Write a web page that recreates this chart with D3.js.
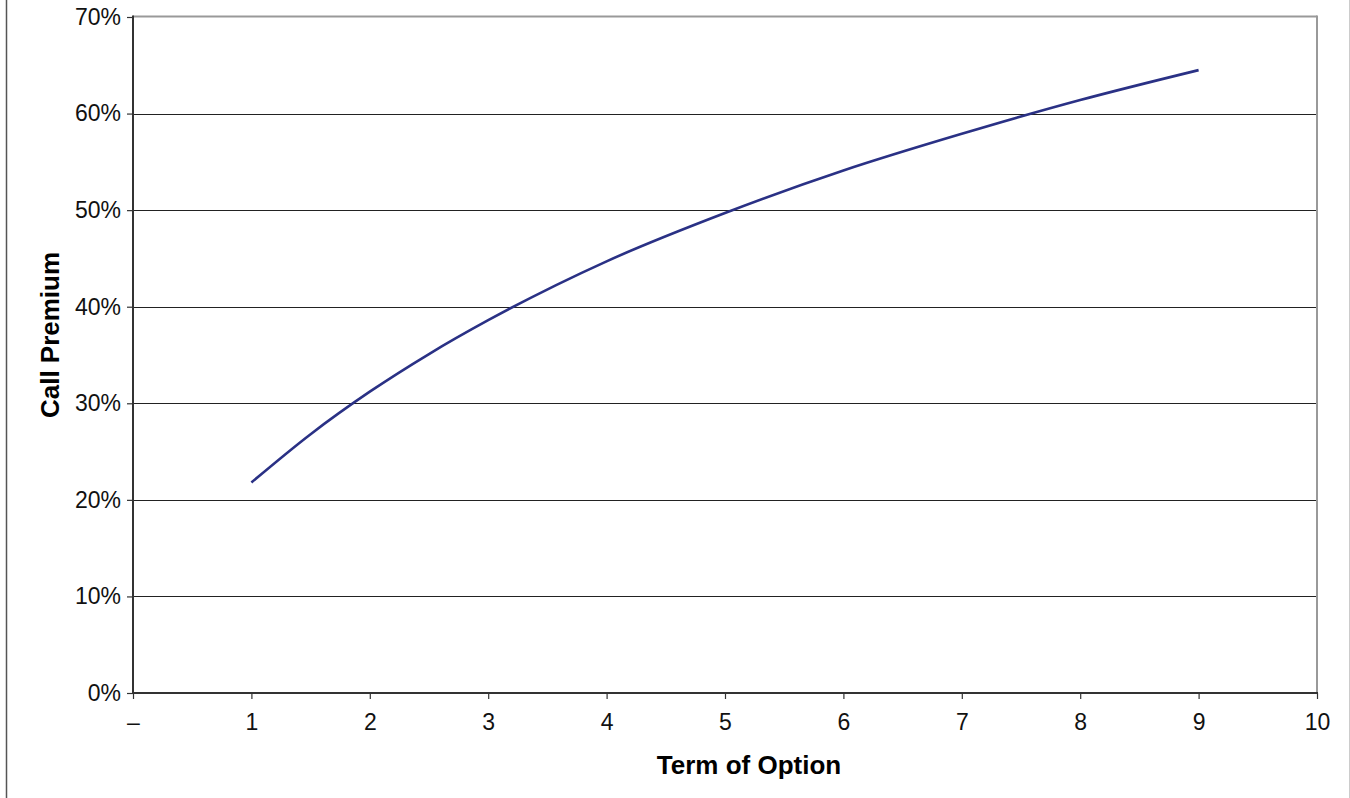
<!DOCTYPE html>
<html><head><meta charset="utf-8">
<script src="https://cdn.jsdelivr.net/npm/d3@7"></script>
<style>body{margin:0;background:#fff;}svg{display:block;font-family:"Liberation Sans",Arial,sans-serif;}</style>
</head><body>
<svg id="c" width="1350" height="798"></svg>
<script>
const terms = [1, 1.5, 2, 2.5, 3, 4, 5, 6, 7, 8, 9];
const premiums = [0.218, 0.268, 0.312, 0.351, 0.386, 0.447, 0.497, 0.541, 0.579, 0.614, 0.645];
const xTicks = [0,1,2,3,4,5,6,7,8,9,10];
const xTickLabels = ["–","1","2","3","4","5","6","7","8","9","10"];
const yTicks = [0,0.1,0.2,0.3,0.4,0.5,0.6,0.7];
const yTickLabels = ["0%","10%","20%","30%","40%","50%","60%","70%"];

const svg = d3.select("#c");
const L = 133, R = 1317, T = 17, B = 693;
const x = d3.scaleLinear().domain([0,10]).range([L,R]);
const y = d3.scaleLinear().domain([0,0.7]).range([B,T]);

// outer frame lines
svg.append("line").attr("x1",6.5).attr("x2",6.5).attr("y1",0).attr("y2",798).attr("stroke","#555").attr("stroke-width",1.5);
svg.append("line").attr("x1",1349.5).attr("x2",1349.5).attr("y1",0).attr("y2",798).attr("stroke","#ccc").attr("stroke-width",1);

// gridlines
svg.append("g").selectAll("line").data(yTicks.filter(d=>d>0 && d<0.7)).join("line")
  .attr("x1",L).attr("x2",R).attr("y1",d=>Math.round(y(d))+0.5).attr("y2",d=>Math.round(y(d))+0.5)
  .attr("stroke","#222").attr("stroke-width",1);

// plot border top/right
svg.append("line").attr("x1",L).attr("x2",R).attr("y1",T-0.5).attr("y2",T-0.5).attr("stroke","#999").attr("stroke-width",2);
svg.append("line").attr("x1",R).attr("x2",R).attr("y1",T-1.5).attr("y2",B).attr("stroke","#999").attr("stroke-width",2);

// axes
const yAxis = d3.axisLeft(y).tickValues(yTicks).tickFormat((d,i)=>yTickLabels[i]).tickSize(6).tickPadding(6);
const gy = svg.append("g").attr("transform",`translate(${L},0)`).call(yAxis);
gy.attr("font-size",23).attr("font-family","Liberation Sans, Arial, sans-serif");
gy.select(".domain").attr("stroke","#333").attr("stroke-width",2).attr("d",`M0,${T-1.5}V${B}`);
gy.selectAll(".tick line").attr("stroke","#333").attr("stroke-width",1.2);
gy.selectAll(".tick text").attr("fill","#111");

const xAxis = d3.axisBottom(x).tickValues(xTicks).tickFormat((d,i)=>xTickLabels[i]).tickSize(6).tickPadding(15);
const gx = svg.append("g").attr("transform",`translate(0,${B})`).call(xAxis);
gx.attr("font-size",23).attr("font-family","Liberation Sans, Arial, sans-serif");
gx.select(".domain").attr("stroke","#333").attr("stroke-width",2).attr("d",`M${L-1},0H${R+1}`);
gx.selectAll(".tick line").attr("stroke","#333").attr("stroke-width",1.2);
gx.selectAll(".tick text").attr("fill","#111");

// curve
const line = d3.line().x((d,i)=>x(terms[i])).y(d=>y(d)).curve(d3.curveMonotoneX);
svg.append("path").datum(premiums).attr("d",line).attr("fill","none").attr("stroke","#2a3185").attr("stroke-width",2.6);

// titles
svg.append("text").attr("x",749).attr("y",774).attr("text-anchor","middle").attr("font-size",26).attr("font-weight","bold").attr("fill","#000").text("Term of Option");
svg.append("text").attr("transform","translate(59,335) rotate(-90)").attr("text-anchor","middle").attr("font-size",26).attr("font-weight","bold").attr("fill","#000").text("Call Premium");
</script>
</body></html>
